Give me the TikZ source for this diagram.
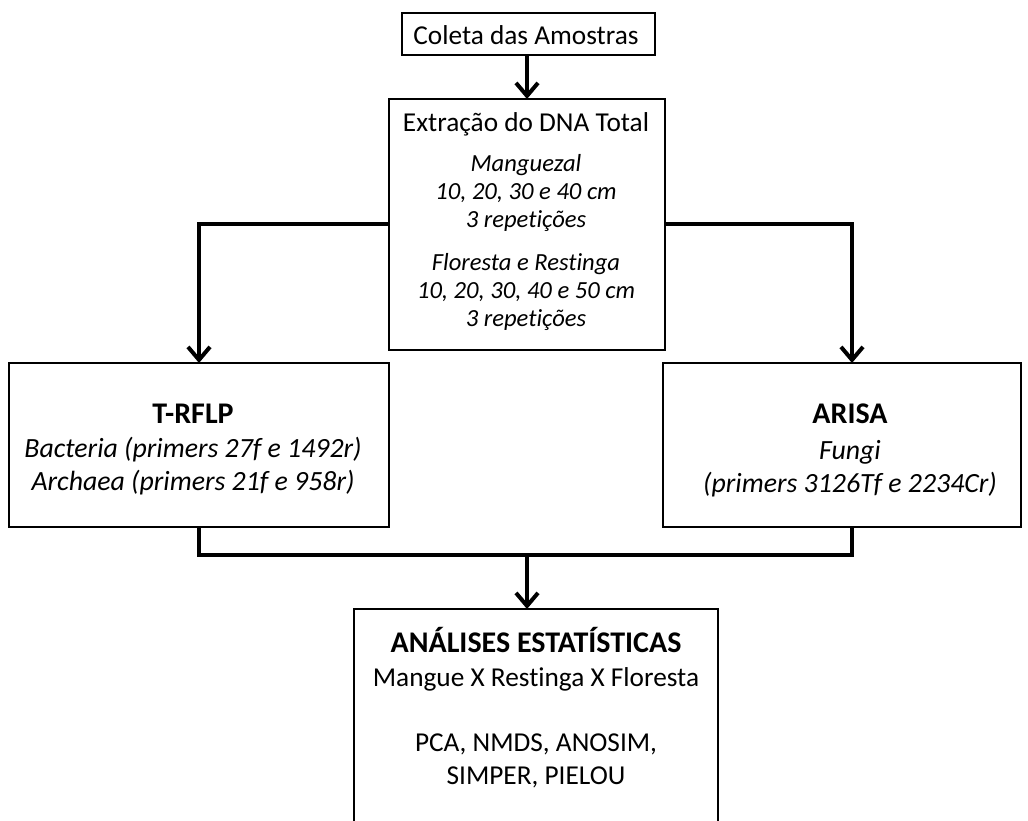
\documentclass[tikz,border=0pt]{standalone}
\usepackage{fontspec}
\setmainfont{Carlito}[RawFeature={-liga;-clig;-dlig;-calt}]
\usetikzlibrary{arrows.meta}
\begin{document}
\begin{tikzpicture}[x=1pt,y=-1pt,
  box/.style={draw, line width=2.6pt, rectangle, inner sep=0pt, outer sep=0pt},
  conn/.style={line width=4pt, line join=miter},
  arr/.style={conn, -{Straight Barb[length=13pt,width=22pt]}},
  big/.style={anchor=base, inner sep=0pt, font=\fontsize{27.3}{33}\selectfont},
  bigb/.style={anchor=base, inner sep=0pt, font=\fontsize{30}{36}\selectfont\bfseries},
  bigi/.style={anchor=base, inner sep=0pt, font=\fontsize{27.8}{33}\selectfont\itshape},
  midi/.style={anchor=base, inner sep=0pt, font=\fontsize{24.6}{29}\selectfont\itshape},
]
\useasboundingbox[fill=white] (0,0) rectangle (1028,821);

% boxes
\node[box, minimum width=253pt, minimum height=42pt] (coleta) at (528.5,34) {};
\node[box, minimum width=276pt, minimum height=251pt] (extr) at (527,224.5) {};
\node[box, minimum width=380pt, minimum height=164pt] (trflp) at (199,445) {};
\node[box, minimum width=358pt, minimum height=164pt] (arisa) at (842,445) {};
\node[box, minimum width=364pt, minimum height=240pt] (stat) at (536,729) {};

% texts
\node[big] (tcol) at (526,45) {Coleta das Amostras};

\node[big]  (te0) at (526,132) {Extração do DNA Total};
\node[midi] (te1) at (526,172) {Manguezal};
\node[midi] (te2) at (526,200) {10, 20, 30 e 40 cm};
\node[midi] (te3) at (526,228) {3 repet\kern0pt ições};
\node[midi] (te4) at (526,270) {Floresta e Rest\kern0pt inga};
\node[midi] (te5) at (526,298) {10, 20, 30, 40 e 50 cm};
\node[midi] (te6) at (526,326) {3 repet\kern0pt ições};

\node[bigb] (tt0) at (193,423) {T-RFLP};
\node[bigi] (tt1) at (193,457) {Bacteria (primers 27f e 1492r)};
\node[bigi] (tt2) at (193,490) {Archaea (primers 21f e 958r)};

\node[bigb] (ta0) at (850,423) {ARISA};
\node[bigi] (ta1) at (850,459) {Fungi};
\node[bigi] (ta2) at (850,492) {(primers 3126Tf e 2234Cr)};

\node[bigb] (ts0) at (536,652) {ANÁLISES ESTATÍSTICAS};
\node[big]  (ts1) at (536,686) {Mangue X Rest\kern0pt inga X Floresta};
\node[big]  (ts2) at (536,751) {PCA, NMDS, ANOSIM,};
\node[big]  (ts3) at (536,784) {SIMPER, PIELOU};

% connector helper points
\coordinate (ain) at ([xshift=10pt]arisa.north);
\coordinate (aout) at ([xshift=10pt]arisa.south);
\coordinate (jn) at (527,555);

% connectors
\draw[arr] (extr.north |- coleta.south) -- (extr.north);
\draw[arr] (extr.west) -| (trflp.north);
\draw[arr] (extr.east) -| (ain);
\draw[conn] (trflp.south) |- (jn) -| (aout);
\draw[arr] (jn) -- (jn |- stat.north);
\end{tikzpicture}
\end{document}
